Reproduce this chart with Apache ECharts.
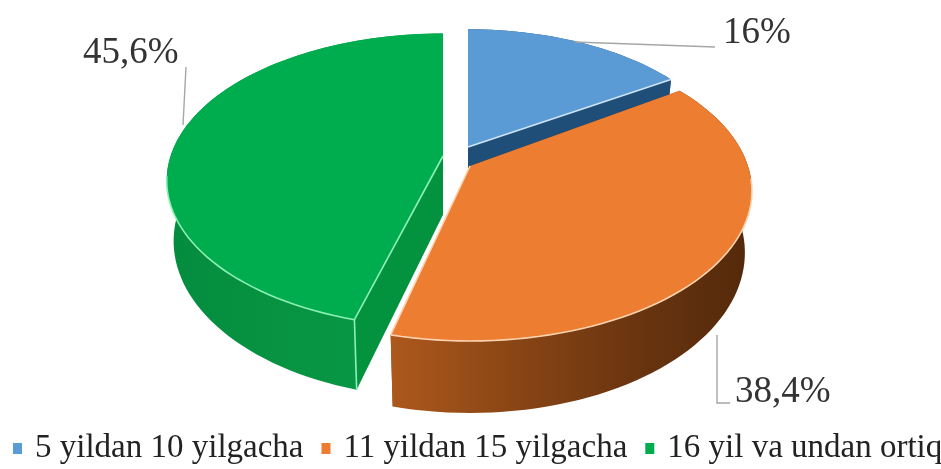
<!DOCTYPE html>
<html><head><meta charset="utf-8">
<script src="https://cdn.jsdelivr.net/npm/echarts@6/dist/echarts.min.js"></script>
<style>html,body{margin:0;padding:0;background:#fff}#main{width:941px;height:469px;filter:blur(0.6px)}</style>
</head><body><div id="main"></div>
<script>
const categories = ['5 yildan 10 yilgacha', '11 yildan 15 yilgacha', '16 yil va undan ortiq'];
const values = [16, 38.4, 45.6];
const valueLabels = ['16%', '38,4%', '45,6%'];

const FONT = '"Liberation Serif","Times New Roman",serif';
const K = 1 / 6, RX = 278, RY = 145.8, DEPTH = 60, BOTTOM_X = 0.975;
const styles = [
  {cx: 468, cy: 147, scale: 0.942, rot: 0, top: '#5b9bd5', cut: '#1f4e79',
   wall: ['#1f4e79', '#1f4e79'], rim: '#cfe4f7', z: 2,
   leader: [[575, 42], [715, 47]], label: [723, 33, 'left']},
  {cx: 470, cy: 166, scale: 1, rot: -2, top: '#ed7d31', cut: '#8a4515',
   wall: ['#ad581c', '#8a4615', '#6b3510', '#53290a'], rim: '#fbd3b0', z: 3,
   leader: [[717, 335], [717, 403], [730, 403]], label: [735, 392, 'left']},
  {cx: 443, cy: 156, scale: 0.98, rot: 0, top: '#00ad4e', cut: '#03933f',
   wall: ['#0a9c47', '#048c3e'], rim: '#8df0b4', z: 2,
   leader: [[186, 67], [183, 125]], label: [83, 53, 'left']}
];

function project(st, deg, r, down) {
  const a = (deg + st.rot) * Math.PI / 180;
  const X = Math.sin(a) * r, Z = -Math.cos(a) * r;
  const s = 1 / (1 - K * Z);
  return [st.cx + RX * st.scale * X * s * (down ? BOTTOM_X : 1),
          st.cy + st.scale * (RY * Z * s + (down ? DEPTH * s : 0))];
}
function arc(st, a0, a1, down) {
  const n = Math.max(2, Math.ceil(Math.abs(a1 - a0) / 2));
  const pts = [];
  for (let i = 0; i <= n; i++) pts.push(project(st, a0 + (a1 - a0) * i / n, 1, down));
  return pts;
}

function renderSlice(idx) {
  return function (params, api) {
    const st = styles[idx];
    let before = 0, total = 0;
    values.forEach((v, i) => { total += v; if (i < idx) before += v; });
    const a0 = before / total * 360;
    const a1 = a0 + api.value(0) / total * 360;
    const apexT = project(st, a0, 0, false), apexB = project(st, a0, 0, true);
    const s0T = project(st, a0, 1, false), s0B = project(st, a0, 1, true);
    const s1T = project(st, a1, 1, false), s1B = project(st, a1, 1, true);
    const top = arc(st, a0, a1, false);
    const topPts = [apexT].concat(top);
    const bottom = arc(st, a0, a1, true);
    const wall = top.concat(bottom.slice().reverse());
    const stops = st.wall.map((c, i) => ({offset: i / (st.wall.length - 1), color: c}));
    const children = [
      {type: 'polygon', shape: {points: [apexT, s0T, s0B, apexB]}, style: {fill: st.cut}},
      {type: 'polygon', shape: {points: [apexT, s1T, s1B, apexB]}, style: {fill: st.cut}},
      {type: 'polygon', shape: {points: wall},
       style: {fill: new echarts.graphic.LinearGradient(idx === 2 ? 1 : 0, 0, idx === 2 ? 0 : 1, 0, stops)}},
      {type: 'polygon', shape: {points: topPts}, style: {fill: st.top}}
    ];
    const lineStyle = {stroke: st.rim, lineWidth: 1.6, fill: null};
    const rimFrom = Math.max(a0, 97), rimTo = Math.min(a1, 262);
    if (rimTo > rimFrom) children.push({type: 'polyline', shape: {points: arc(st, rimFrom, rimTo, false)}, style: lineStyle});
    if (idx === 0 || idx === 1) children.push({type: 'polyline', shape: {points: [apexT, s1T]}, style: lineStyle});
    if (idx === 2) {
      children.push({type: 'polyline', shape: {points: [apexT, s0T]}, style: lineStyle});
      children.push({type: 'polyline', shape: {points: [s0T, s0B]}, style: lineStyle});
    }
    children.push({type: 'polyline', shape: {points: st.leader}, style: {stroke: '#a6a6a6', lineWidth: 1.4, fill: null}, z2: 5});
    children.push({type: 'text', style: {text: valueLabels[idx], x: st.label[0], y: st.label[1], align: st.label[2],
      verticalAlign: 'middle', font: '37px ' + FONT, fill: '#333333'}, z2: 6});
    return {type: 'group', children};
  };
}

const chart = echarts.init(document.getElementById('main'));
chart.setOption({
  animation: false,
  backgroundColor: '#ffffff',
  legend: {
    data: categories, left: 13, top: 432, width: 1200, itemWidth: 9, itemHeight: 11, itemGap: 18,
    icon: 'rect', padding: 0,
    textStyle: {fontFamily: FONT, fontSize: 33, color: '#222222', padding: [0, 0, 0, 8]}
  },
  series: categories.map((name, i) => ({
    type: 'custom', name, coordinateSystem: 'none', z: styles[i].z,
    itemStyle: {color: styles[i].top},
    data: [[values[i]]], renderItem: renderSlice(i)
  }))
});
</script></body></html>
